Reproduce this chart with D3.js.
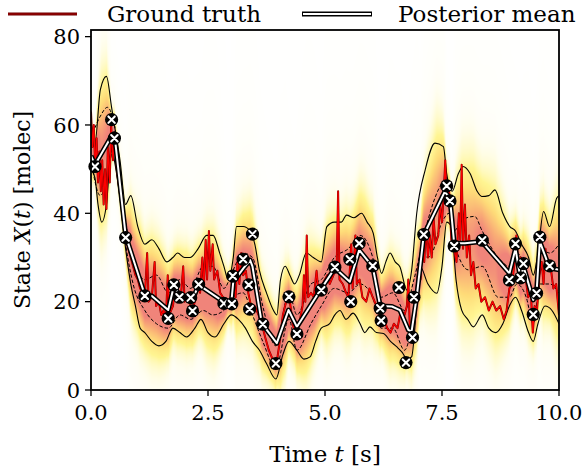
<!DOCTYPE html>
<html>
<head>
<meta charset="utf-8">
<script src="https://cdnjs.cloudflare.com/ajax/libs/d3/7.8.5/d3.min.js"></script>
<style>
  html, body { margin: 0; padding: 0; background: #fff; }
  svg text { font-family: "DejaVu Serif", serif; fill: #000; }
</style>
</head>
<body>
<svg id="chart"></svg>
<script>
// observations [time, molecules]
const observations = [
  [0.085,50.6],[0.44,61.2],[0.50,57.0],[0.74,34.5],[1.15,21.3],[1.65,16.2],[1.77,23.8],
  [1.89,21.0],[2.13,20.9],[2.17,17.9],[2.30,23.9],[2.84,19.6],[3.01,19.5],[3.03,25.8],
  [3.25,29.6],[3.37,23.8],[3.39,18.3],[3.45,35.3],[3.67,14.9],[3.95,6.0],[4.23,21.1],
  [4.40,12.7],[4.92,22.6],[5.21,27.8],[5.53,29.6],[5.55,20.0],[5.73,33.2],[6.02,28.1],
  [6.18,18.5],[6.20,15.7],[6.58,23.2],[6.73,6.2],[6.87,11.9],[6.90,21.0],[7.11,35.2],
  [7.60,46.2],[7.67,42.8],[7.76,32.6],[8.36,33.9],[8.94,24.9],[9.07,33.1],[9.18,25.4],
  [9.24,28.6],[9.45,17.1],[9.52,21.9],[9.59,34.6],[9.80,28.1]
];

// posterior mean
const posteriorMean = [
  [0,53],[0.085,51],[0.44,57.5],[0.5,58],[0.74,35],[1.15,21.5],[1.3,21.3],[1.65,18.1],
  [1.77,23.5],[1.89,21.5],[2.13,21],[2.17,20.5],[2.3,23.8],[2.83,20],[3.0,20],[3.04,24.5],
  [3.26,27.6],[3.4,29.4],[3.45,28],[3.65,15.1],[3.97,10.6],[4.22,18.1],[4.4,14.3],[4.9,22.6],
  [5.21,27.6],[5.53,24.5],[5.73,31.7],[6.02,27.9],[6.18,19],[6.43,18.9],[6.6,18.1],[6.78,13.6],
  [6.85,13.2],[6.96,21.1],[7.11,35.1],[7.56,44.9],[7.67,43.4],[7.76,33.2],[7.99,33.2],
  [8.35,33.6],[8.94,26.4],[9.07,32],[9.18,25],[9.24,28],[9.45,20.4],[9.52,22],[9.59,33.6],
  [9.8,27.6],[10,27.2]
];

// outer band (solid lines)
const upperOuter = [
  [0,60],[0.085,56],[0.2,68],[0.33,71],[0.44,64],[0.5,60],[0.62,52],[0.74,42],[0.85,44],
  [1.0,37],[1.15,33],[1.3,34],[1.45,32],[1.62,29],[1.75,30],[1.85,31],[2.0,30],[2.12,30],
  [2.29,32],[2.47,35],[2.61,35],[2.75,31],[2.84,28],[2.93,25],[3.04,30],[3.11,37],[3.25,37],
  [3.4,36],[3.5,33],[3.6,27],[3.75,22],[3.9,18],[3.97,17],[4.05,25],[4.15,28],[4.25,26],
  [4.35,24],[4.45,26],[4.6,31],[4.75,30],[4.92,29],[5.04,37],[5.2,38],[5.35,38],[5.46,39.6],
  [5.62,39],[5.78,40],[5.9,38],[6.03,35.5],[6.12,30],[6.21,26.4],[6.3,29],[6.39,31],
  [6.5,29],[6.6,27.9],[6.75,22.6],[6.85,27],[6.96,40],[7.14,49.8],[7.35,55.9],[7.53,55.1],
  [7.6,49],[7.72,45],[7.85,49],[7.95,50.6],[8.1,49],[8.25,45],[8.35,43.8],[8.5,44],
  [8.63,45.3],[8.8,40],[8.95,37],[9.07,36],[9.2,33],[9.35,30],[9.45,26],[9.55,31],
  [9.67,40.4],[9.8,37],[9.95,43.4],[10,44]
];
const lowerOuter = [
  [0,50],[0.085,48],[0.15,42],[0.23,38],[0.33,42],[0.44,55],[0.5,52],[0.6,45],[0.74,32],
  [0.85,24],[0.95,19],[1.05,14],[1.15,13],[1.3,11],[1.45,10],[1.6,11],[1.75,14],[1.9,13],
  [2.04,12],[2.22,14],[2.35,16],[2.5,13],[2.65,12],[2.84,15],[3.0,17],[3.15,16],[3.3,14],
  [3.45,11],[3.6,9],[3.75,6],[3.95,2.5],[4.1,8],[4.23,11],[4.4,9],[4.55,7],[4.68,7.5],
  [4.8,11],[4.92,14],[5.1,15],[5.21,17],[5.32,18],[5.45,16],[5.6,17.4],[5.75,15],[5.85,13],
  [5.96,14.3],[6.1,13],[6.25,12.8],[6.4,11],[6.53,9.8],[6.65,8.5],[6.75,7],[6.85,7.5],
  [6.95,18],[7.03,28],[7.2,24],[7.39,21.9],[7.5,28],[7.6,38],[7.7,37],[7.8,25],[7.92,18.1],
  [8.05,16],[8.17,14.3],[8.36,17],[8.5,14],[8.65,13],[8.8,15],[8.94,19],[9.07,21],[9.2,18],
  [9.35,13],[9.45,11],[9.55,15],[9.7,19],[9.85,18],[10,15]
];

// inner band (dashed lines)
const upperInner = [
  [0,57],[0.2,62],[0.35,64],[0.5,60],[0.74,38],[0.9,30],[1.15,25],[1.4,26],[1.65,22],
  [1.9,25],[2.13,23],[2.4,28],[2.6,28],[2.84,23],[3.03,27],[3.25,31],[3.45,30],[3.67,19],
  [3.95,10],[4.23,22],[4.4,17],[4.7,24],[4.92,25],[5.2,30],[5.5,32],[5.75,35],[6.02,30],
  [6.2,21],[6.45,22],[6.7,18],[6.9,25],[7.2,38.5],[7.42,45.3],[7.6,48],[7.76,36],[7.92,38.5],
  [8.2,39.3],[8.35,36.2],[8.7,30],[8.94,28],[9.1,31],[9.3,27],[9.45,21],[9.6,32],[9.8,31],[10,33]
];
const lowerInner = [
  [0,52],[0.2,44],[0.35,48],[0.5,56],[0.74,33],[0.9,24],[1.15,18],[1.4,15],[1.65,14],
  [1.9,17],[2.13,16],[2.4,18],[2.6,17],[2.84,18],[3.03,21],[3.25,22],[3.45,17],[3.67,11],
  [3.95,5],[4.23,16],[4.4,9],[4.7,15],[4.92,19],[5.2,23],[5.5,22],[5.75,24],[6.02,21],
  [6.2,14],[6.45,14],[6.7,9],[6.9,17],[7.11,30],[7.24,30.2],[7.5,38],[7.65,40],[7.81,31.7],
  [7.92,28.7],[8.06,27.2],[8.36,28],[8.7,21],[8.94,21],[9.1,24],[9.3,21],[9.45,15],
  [9.6,24],[9.8,24],[10,22]
];

// ground truth trajectory
const groundTruth = [
  [0,63],[0.03,55],[0.06,60],[0.09,50],[0.12,57],[0.15,47],[0.18,54],[0.21,45],[0.24,52],
  [0.27,42],[0.30,50],[0.33,41],[0.36,55],[0.40,47],[0.43,60],[0.47,52],[0.50,58],[0.55,50],
  [0.60,46],[0.65,42],[0.70,38],[0.75,35],[0.80,32],[0.85,30],[0.90,28],[0.95,26],[1.00,25],
  [1.05,23],[1.10,22],[1.15,21],[1.20,31],[1.23,20],[1.30,21],[1.36,29],[1.39,19],[1.45,20],
  [1.50,17],[1.55,18],[1.60,16],[1.64,26],[1.67,17],[1.75,19],[1.80,23],[1.85,20],[1.92,21],
  [1.97,28],[2.00,20],[2.08,21],[2.15,18],[2.22,20],[2.28,24],[2.33,22],[2.38,30],[2.41,23],
  [2.45,34],[2.48,25],[2.52,36],[2.55,27],[2.60,33],[2.63,25],[2.70,27],[2.76,22],[2.82,21],
  [2.90,19],[2.98,20],[3.05,24],[3.09,21],[3.13,29],[3.17,24],[3.21,31],[3.25,26],[3.31,27],
  [3.36,22],[3.42,19],[3.50,19],[3.58,17],[3.65,15],[3.72,12],[3.80,9],[3.88,7],[3.95,5],
  [4.02,10],[4.10,17],[4.17,20],[4.25,20],[4.31,15],[4.38,12],[4.45,15],[4.52,19],[4.55,26],
  [4.58,20],[4.61,35],[4.64,21],[4.70,22],[4.76,21],[4.82,27],[4.86,22],[4.95,24],[5.05,26],
  [5.10,24],[5.18,26],[5.25,28],[5.28,45],[5.31,25],[5.38,24],[5.45,22],[5.50,21],[5.56,33],
  [5.59,23],[5.65,35],[5.68,24],[5.74,25],[5.80,21],[5.88,20],[5.95,23],[6.02,21],[6.10,19],
  [6.18,17],[6.26,16],[6.33,14],[6.40,13],[6.47,15],[6.55,14],[6.62,18],[6.70,17],[6.75,19],
  [6.78,25],[6.81,15],[6.85,12],[6.92,19],[7.00,28],[7.04,25],[7.08,33],[7.12,29],[7.16,37],
  [7.20,30],[7.24,35],[7.28,30],[7.32,39],[7.36,33],[7.42,35],[7.46,42],[7.50,38],[7.54,45],
  [7.57,52],[7.60,42],[7.65,45],[7.70,34],[7.76,32],[7.81,29],[7.86,40],[7.89,34],[7.92,51],
  [7.95,32],[7.99,42],[8.03,30],[8.08,35],[8.12,26],[8.17,29],[8.22,23],[8.28,24],[8.34,20],
  [8.42,21],[8.50,18],[8.58,20],[8.66,18],[8.74,19],[8.82,16],[8.88,18],[8.94,23],[9.00,24],
  [9.05,29],[9.09,35],[9.13,28],[9.18,30],[9.22,25],[9.28,26],[9.34,21],[9.40,22],[9.44,13],
  [9.48,19],[9.53,18],[9.58,26],[9.63,29],[9.67,24],[9.71,32],[9.76,27],[9.82,28],[9.88,23],
  [9.94,24],[10.0,17]
];

const xTicks = [0, 2.5, 5, 7.5, 10];
const yTicks = [0, 20, 40, 60, 80];

// value of a piecewise series at time t (for the density image only)
function valueAt(series, t) {
  const i = d3.bisector(d => d[0]).right(series, t);
  if (i <= 0) return series[0][1];
  if (i >= series.length) return series[series.length - 1][1];
  const a = series[i - 1], b = series[i];
  return a[1] + (t - a[0]) / (b[0] - a[0]) * (b[1] - a[1]);
}

function drawChart() {
  const width = 584, height = 469;
  const margin = {top: 30, right: 25, bottom: 79, left: 91};
  const w = width - margin.left - margin.right;
  const h = height - margin.top - margin.bottom;

  const svg = d3.select("#chart").attr("width", width).attr("height", height);

  const x = d3.scaleLinear().domain([0, 10]).range([0, w]);
  const y = d3.scaleLinear().domain([0, 81.5]).range([h, 0]);

  const g = svg.append("g").attr("transform", `translate(${margin.left},${margin.top})`);

  svg.append("defs").append("clipPath").attr("id", "clip")
    .append("rect").attr("width", w).attr("height", h);

  // posterior density as an image
  const color = d3.scaleLinear()
    .domain([0, 0.04, 0.15, 0.35, 0.6, 0.85])
    .range(["#ffffff", "#fffcdc", "#fff592", "#fedb78", "#f9ad76", "#f0847a"])
    .clamp(true);
  const canvas = document.createElement("canvas");
  canvas.width = Math.round(w);
  canvas.height = Math.round(h);
  const ctx = canvas.getContext("2d");
  const img = ctx.createImageData(canvas.width, canvas.height);
  for (let px = 0; px < canvas.width; px++) {
    const t = x.invert(px + 0.5);
    const m = valueAt(posteriorMean, t);
    const mid = (valueAt(upperInner, t) + valueAt(lowerInner, t)) / 2;
    const c = 0.5 * m + 0.5 * mid;
    const s = Math.max(1.8, (valueAt(upperOuter, t) - valueAt(lowerOuter, t)) / 3.6);
    const k = Math.min(1.3, 7 / s);
    for (let py = 0; py < canvas.height; py++) {
      const v = y.invert(py + 0.5);
      const z = (v - c) / s;
      const f = (0.97 * Math.exp(-0.5 * z * z) + 0.03 / (1 + z * z / 5)) * k;
      const col = d3.rgb(color(f));
      const o = (py * canvas.width + px) * 4;
      img.data[o] = col.r; img.data[o + 1] = col.g; img.data[o + 2] = col.b; img.data[o + 3] = 255;
    }
  }
  ctx.putImageData(img, 0, 0);
  g.append("image")
    .attr("width", w).attr("height", h)
    .attr("preserveAspectRatio", "none")
    .attr("href", canvas.toDataURL());

  const plot = g.append("g").attr("clip-path", "url(#clip)");

  const smooth = d3.line().x(d => x(d[0])).y(d => y(d[1])).curve(d3.curveMonotoneX);
  const straight = d3.line().x(d => x(d[0])).y(d => y(d[1]));

  // outer band
  [upperOuter, lowerOuter].forEach(s => {
    plot.append("path").attr("d", smooth(s))
      .attr("fill", "none").attr("stroke", "#000").attr("stroke-width", 1.1);
  });
  // inner band
  [upperInner, lowerInner].forEach(s => {
    plot.append("path").attr("d", smooth(s))
      .attr("fill", "none").attr("stroke", "#000").attr("stroke-width", 1)
      .attr("stroke-dasharray", "3.5,2");
  });

  // ground truth, dark edge then red
  plot.append("path").attr("d", straight(groundTruth))
    .attr("fill", "none").attr("stroke", "#7a0000").attr("stroke-width", 2)
    .attr("stroke-linejoin", "round");
  plot.append("path").attr("d", straight(groundTruth))
    .attr("fill", "none").attr("stroke", "#ff0000").attr("stroke-width", 1.2)
    .attr("stroke-linejoin", "round");

  // posterior mean, white with black outline
  plot.append("path").attr("d", straight(posteriorMean))
    .attr("fill", "none").attr("stroke", "#000").attr("stroke-width", 5)
    .attr("stroke-linejoin", "round");
  plot.append("path").attr("d", straight(posteriorMean))
    .attr("fill", "none").attr("stroke", "#fff").attr("stroke-width", 2)
    .attr("stroke-linejoin", "round");

  // observation markers
  const marks = g.selectAll("g.obs")
    .data(observations)
    .enter()
    .append("g")
    .attr("class", "obs")
    .attr("transform", d => `translate(${x(d[0])},${y(d[1])})`);
  marks.append("circle").attr("r", 6.6).attr("fill", "#000");
  marks.append("path").attr("d", "M-3.2,-3.2L3.2,3.2M-3.2,3.2L3.2,-3.2")
    .attr("stroke", "#fff").attr("stroke-width", 2.1).attr("stroke-linecap", "round");

  // frame
  g.append("rect").attr("width", w).attr("height", h)
    .attr("fill", "none").attr("stroke", "#000").attr("stroke-width", 1.8);

  // x axis
  const xa = g.append("g").attr("transform", `translate(0,${h})`);
  xa.selectAll("line").data(xTicks).enter().append("line")
    .attr("x1", d => x(d)).attr("x2", d => x(d)).attr("y1", 0).attr("y2", 6)
    .attr("stroke", "#000").attr("stroke-width", 1.3);
  xa.selectAll("text").data(xTicks).enter().append("text")
    .attr("x", d => x(d)).attr("y", 30)
    .attr("text-anchor", "middle").attr("font-size", 21)
    .text(d => d3.format(".1f")(d));

  // y axis
  const ya = g.append("g");
  ya.selectAll("line").data(yTicks).enter().append("line")
    .attr("x1", -6).attr("x2", 0).attr("y1", d => y(d)).attr("y2", d => y(d))
    .attr("stroke", "#000").attr("stroke-width", 1.3);
  ya.selectAll("text").data(yTicks).enter().append("text")
    .attr("x", -11).attr("y", d => y(d)).attr("dy", "0.36em")
    .attr("text-anchor", "end").attr("font-size", 21)
    .text(d => d);

  // axis labels
  const xl = svg.append("text")
    .attr("x", margin.left + w / 2).attr("y", 462)
    .attr("text-anchor", "middle").attr("font-size", 23);
  xl.append("tspan").text("Time ");
  xl.append("tspan").attr("font-style", "italic").text("t");
  xl.append("tspan").text(" [s]");

  const yl = svg.append("text")
    .attr("transform", "translate(30,210) rotate(-90)")
    .attr("text-anchor", "middle").attr("font-size", 22);
  yl.append("tspan").text("State ");
  yl.append("tspan").attr("font-style", "italic").text("X");
  yl.append("tspan").text("(");
  yl.append("tspan").attr("font-style", "italic").text("t");
  yl.append("tspan").text(") [molec]");

  // legend
  const lg = svg.append("g");
  lg.append("line").attr("x1", 8).attr("x2", 77).attr("y1", 14).attr("y2", 14)
    .attr("stroke", "#6e0000").attr("stroke-width", 3);
  lg.append("line").attr("x1", 8).attr("x2", 77).attr("y1", 14).attr("y2", 14)
    .attr("stroke", "#a00000").attr("stroke-width", 1);
  lg.append("text").attr("x", 107).attr("y", 22).attr("font-size", 23).text("Ground truth");
  lg.append("line").attr("x1", 302).attr("x2", 372).attr("y1", 14).attr("y2", 14)
    .attr("stroke", "#000").attr("stroke-width", 5);
  lg.append("line").attr("x1", 303).attr("x2", 371).attr("y1", 14).attr("y2", 14)
    .attr("stroke", "#fff").attr("stroke-width", 2);
  lg.append("text").attr("x", 398).attr("y", 22).attr("font-size", 23).text("Posterior mean");
}

drawChart();
</script>
</body>
</html>
